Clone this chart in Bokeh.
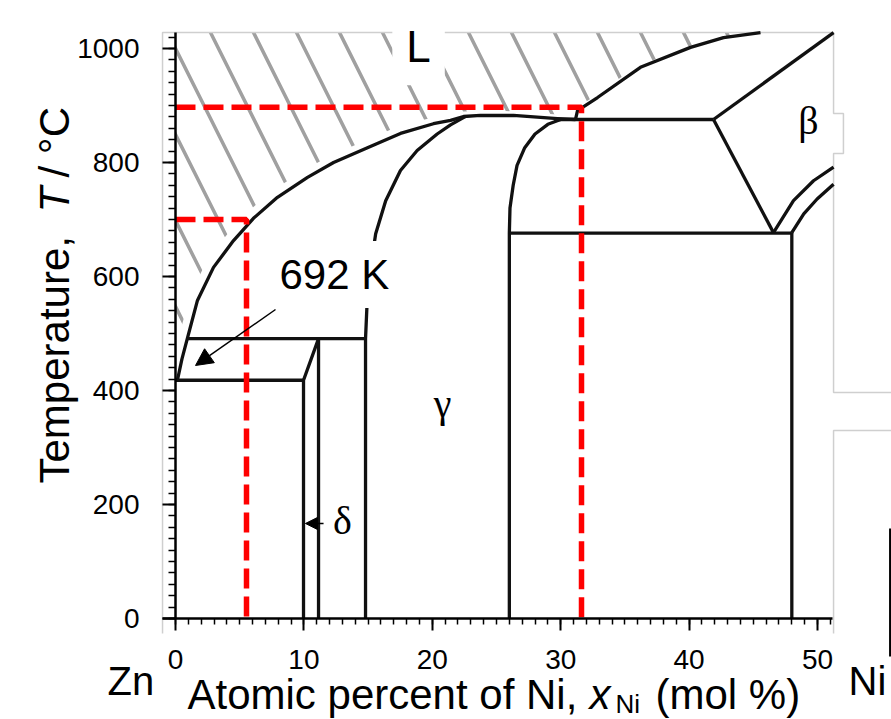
import math
from bokeh.plotting import figure
from bokeh.models import Range1d, SingleIntervalTicker, Label, Arrow, NormalHead
from bokeh.embed import file_html
from bokeh.resources import INLINE

# ---------------- data: x = Ni content (mol %), T = temperature (deg C) ----------------
# liquidus L / (L + gamma), Zn side up to the 875 C peritectic
liq_gamma_x = [0.15, 0.5, 0.92, 1.71, 2.96, 4.52, 6.07, 7.94, 10.28, 12.31, 14.95, 17.52,
               20.09, 21.42, 22.43, 23.75, 26.32, 28.43, 29.75, 31.15]
liq_gamma_t = [418, 455, 491, 558, 616, 663, 702, 739, 774, 800, 826, 851,
               868, 874, 880.7, 882.5, 882.5, 879, 877, 875.4]
# liquidus L / (L + beta)
liq_beta_x = [31.15, 31.31, 32.87, 36.21, 40.11, 42.68, 45.56]
liq_beta_t = [875.4, 891, 914, 967, 1002, 1019, 1028]
# gamma phase, Zn-rich boundary
gamma_left_x = [14.80, 14.80, 14.93, 15.20, 15.59, 16.37, 17.52, 18.82, 20.38, 21.42, 22.6]
gamma_left_t = [0, 491, 558, 616, 675, 733, 786, 821, 850, 866, 881]
# gamma phase, Ni-rich boundary
gamma_right_x = [26.0, 26.0, 26.05, 26.3, 26.6, 27.2, 28.0, 29.0, 30.0]
gamma_right_t = [0, 676, 720, 760, 795, 826, 850, 867, 875.4]
# delta phase
delta_left_x = [9.97, 9.97, 11.14]
delta_left_t = [0, 418, 491]
delta_right_x = [11.14, 11.14]
delta_right_t = [0, 491]
# invariant lines
eutectic_x = [0, 9.97]
eutectic_t = [418, 418]
peritectic_low_x = [0.92, 14.80]
peritectic_low_t = [491, 491]
peritectic_high_x = [29.5, 41.9]
peritectic_high_t = [875.4, 875.4]
eutectoid_x = [26.0, 48.0]
eutectoid_t = [676, 676]
# beta phase boundaries
beta_top_x = [41.9, 51.25]
beta_top_t = [875.4, 1028]
beta_slant_x = [41.9, 46.57]
beta_slant_t = [875.4, 677]
beta_curve1_x = [46.57, 48.13, 49.69, 51.25]
beta_curve1_t = [677, 733, 768, 792]
beta_curve2_x = [48.0, 48.93, 49.97, 51.25]
beta_curve2_t = [677, 710, 736, 762]
beta_right_x = [48.0, 48.0]
beta_right_t = [0, 677]

# red guide lines (composition, temperature)
guide_high = (31.62, 897)
guide_low = (5.53, 700)

# picture frame decorations (gray) and page edge
frame_a_x = [-1.01, -1.01, 51.25, 51.25, 52.02, 52.02, 51.25, 51.25, 56.5]
frame_a_t = [-26.3, 1028.1, 1028.1, 886, 886, 815.8, 815.8, 396.5, 396.5]
frame_b_x = [56.5, 51.25, 51.25]
frame_b_t = [329.8, 329.8, -26.3]
edge_x = [55.69, 55.69]
edge_t = [158, -66.7]

x_major = 10
y_major = 200

# ---------------- figure (plot frame covers the whole canvas) ----------------
p = figure(width=891, height=719, title=None,
           x_range=Range1d(-13.629, 55.763), y_range=Range1d(-177.19, 1084.21),
           output_backend="svg", toolbar_location=None,
           min_border_left=0, min_border_right=0, min_border_top=0, min_border_bottom=0)
p.outline_line_color = None
p.xgrid.visible = False
p.ygrid.visible = False
p.background_fill_color = "white"
p.border_fill_color = "white"

# hatched liquid region
hx = [0.0, liq_beta_x[-1] - 0.4]
ht = [1028.1, 1028.1]
for xx, tt in zip(reversed(liq_beta_x), reversed(liq_beta_t)):
    if tt > 885:
        hx.append(xx - 0.4)
        ht.append(tt)
for xx, tt in zip(reversed(liq_gamma_x), reversed(liq_gamma_t)):
    if xx - 0.6 >= 0:
        hx.append(xx - 0.6)
        ht.append(tt + 8)
hx.append(0.0)
ht.append(ht[-1])
p.patch(hx, ht, fill_color=None, line_color=None,
        hatch_pattern="\\", hatch_color="#a0a0a0", hatch_weight=3.5, hatch_scale=86)

# frame decorations
p.line(frame_a_x, frame_a_t, line_color="#cfcfcf", line_width=1.5)
p.line(frame_b_x, frame_b_t, line_color="#cfcfcf", line_width=1.5)
p.line(edge_x, edge_t, line_color="black", line_width=3)

# phase boundaries
lines = [
    (liq_gamma_x, liq_gamma_t), (liq_beta_x, liq_beta_t),
    (gamma_left_x, gamma_left_t), (gamma_right_x, gamma_right_t),
    (delta_left_x, delta_left_t), (delta_right_x, delta_right_t),
    (eutectic_x, eutectic_t), (peritectic_low_x, peritectic_low_t),
    (peritectic_high_x, peritectic_high_t), (eutectoid_x, eutectoid_t),
    (beta_top_x, beta_top_t), (beta_slant_x, beta_slant_t),
    (beta_curve1_x, beta_curve1_t), (beta_curve2_x, beta_curve2_t),
    (beta_right_x, beta_right_t),
]
p.multi_line(xs=[l[0] for l in lines], ys=[l[1] for l in lines],
             line_color="#111111", line_width=3.3, line_join="round")

# red dashed guides
for gx, gt in (guide_high, guide_low):
    p.line([0, gx, gx], [gt, gt, 0], line_color="#ff0000", line_width=5.5, line_dash="20 8")

# ---------------- axes ----------------
SANS = "Liberation Sans"
SERIF = "Liberation Serif"
for ax in (p.xaxis, p.yaxis):
    ax.fixed_location = 0
    ax.axis_line_color = "black"
    ax.axis_line_width = 2.5
    ax.major_tick_line_color = "black"
    ax.major_tick_line_width = 2
    ax.minor_tick_line_color = "black"
    ax.minor_tick_line_width = 1.5
    ax.major_tick_in = 0
    ax.minor_tick_in = 0
    ax.major_label_text_font = SANS
    ax.major_label_text_font_size = "28px"
    ax.major_label_text_color = "black"

p.xaxis.ticker = SingleIntervalTicker(interval=x_major, num_minor_ticks=10)
p.yaxis.ticker = SingleIntervalTicker(interval=y_major, num_minor_ticks=10)
p.xaxis.bounds = (-0.99, 51.2)
p.yaxis.bounds = (0, 1028)
p.xaxis.major_tick_out = 12
p.xaxis.minor_tick_out = 6
p.yaxis.major_tick_out = 13
p.yaxis.minor_tick_out = 7
p.xaxis.major_label_standoff = 19
p.yaxis.major_label_standoff = 23

# ---------------- annotations ----------------
p.add_layout(Label(x=18.93, y=1003, text="L", text_font=SANS, text_font_size="44px",
                   text_color="black", text_align="center", text_baseline="alphabetic",
                   background_fill_color="white", background_fill_alpha=1.0, padding=14))
p.add_layout(Label(x=7.32, y=603.5, text="692 K", text_font=SANS, text_font_size="42px",
                   text_color="black", text_align="left", text_baseline="alphabetic",
                   background_fill_color="white", background_fill_alpha=1.0, padding=10))
for txt, lx, ly in (("β", 49.3, 873.7), ("γ", 20.8, 377), ("δ", 13.0, 171.9)):
    p.add_layout(Label(x=lx, y=ly, text=txt, text_font=SERIF, text_font_size="40px",
                       text_color="black", text_align="center", text_baseline="alphabetic"))

p.add_layout(Arrow(end=NormalHead(size=17, fill_color="black", line_color="black"),
                   x_start=7.79, y_start=542.1, x_end=1.56, y_end=443.9,
                   line_color="black", line_width=1.5))
p.add_layout(Arrow(end=NormalHead(size=12, fill_color="black", line_color="black"),
                   x_start=11.53, y_start=166.7, x_end=10.12, y_end=166.7,
                   line_color="black", line_width=1.5))

# axis titles (screen units, origin at the bottom-left of the canvas)
H = 719
def slabel(text, px, py, size="42px", style="normal", angle=0.0):
    p.add_layout(Label(x=px, y=H - py, x_units="screen", y_units="screen", text=text,
                       text_font=SANS, text_font_size=size, text_font_style=style,
                       text_color="black", text_align="left", text_baseline="alphabetic",
                       angle=angle))

slabel("Temperature,", 54, 483, angle=math.pi / 2)
slabel("T", 54, 212, style="italic", angle=math.pi / 2)
slabel("/ °C", 54, 177, angle=math.pi / 2)

slabel("Atomic percent of Ni,", 187, 694)
slabel("x", 589, 694, style="italic")
slabel("Ni", 615, 703, size="26px")
slabel("(mol %)", 655, 694)
slabel("Zn", 107, 680, size="40px")
slabel("Ni", 848, 680, size="40px")

open("out.html", "w").write(file_html(p, INLINE))
